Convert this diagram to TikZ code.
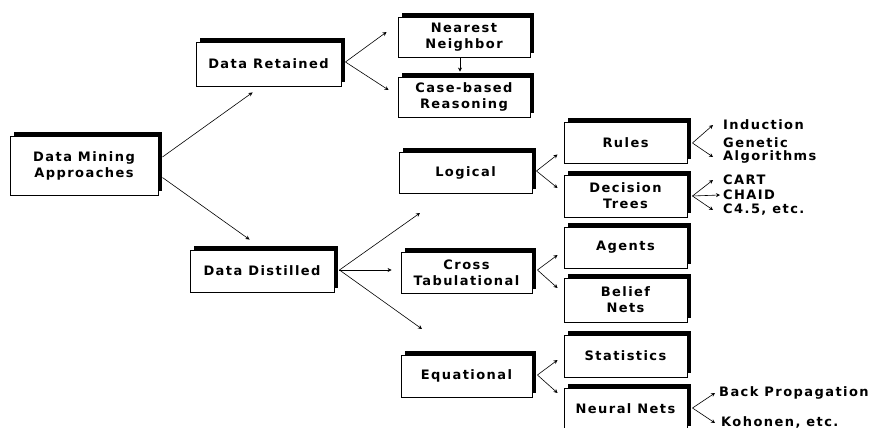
\documentclass[tikz,border=0pt]{standalone}
\usepackage{fontspec}
\setmainfont{DejaVu Sans}[LetterSpace=11]
\usetikzlibrary{arrows.meta,shadows,calc}
\begin{document}
\begin{tikzpicture}[x=1pt,y=-1pt,
  box/.style={draw, line width=0.9pt, fill=white, inner sep=0pt, align=center,
    font=\bfseries\fontsize{13}{16}\selectfont,
    general shadow={fill=black, shadow xshift=4pt, shadow yshift=4pt}},
  lbl/.style={anchor=west, inner sep=0pt, align=left, font=\bfseries\fontsize{13}{13}\selectfont},
  arr/.style={line width=0.6pt, -{Stealth[length=4pt,width=4pt]}}]
\useasboundingbox (0,0) rectangle (871,428);
\clip (0,0) rectangle (871,428);
% boxes
\node[box, minimum width=148, minimum height=59] (dma) at (84,165.5) {Data Mining\\Approaches};
\node[box, minimum width=145, minimum height=44] (dret) at (268.5,64) {Data Retained};
\node[box, minimum width=144, minimum height=42] (ddist) at (262,271) {Data Distilled};
\node[box, minimum width=132, minimum height=40] (nn) at (464,37) {Nearest\\Neighbor};
\node[box, minimum width=132, minimum height=40] (cbr) at (464,97) {Case-based\\Reasoning};
\node[box, minimum width=133, minimum height=41] (logical) at (465.5,172.5) {Logical};
\node[box, minimum width=131, minimum height=41] (ctab) at (466.5,272.5) {Cross\\Tabulational};
\node[box, minimum width=131, minimum height=42] (equa) at (466.5,376) {Equational};
\node[box, minimum width=123, minimum height=41] (rules) at (625.5,142.5) {Rules};
\node[box, minimum width=123, minimum height=42] (dtrees) at (625.5,196) {Decision\\Trees};
\node[box, minimum width=123, minimum height=41] (agents) at (625.5,247.5) {Agents};
\node[box, minimum width=123, minimum height=44] (belief) at (625.5,300) {Belief\\Nets};
\node[box, minimum width=123, minimum height=42] (stats) at (625.5,356) {Statistics};
\node[box, minimum width=123, minimum height=42] (neural) at (625.5,409) {Neural Nets};
% labels
\node[lbl] (ind) at (723,125) {Induction};
\node[lbl] (gen) at (723,150.5) {Genetic\\Algorithms};
\node[lbl] (cart) at (723,180) {CART};
\node[lbl] (chaid) at (723,195) {CHAID};
\node[lbl] (c45) at (723,209.5) {C4.5, etc.};
\node[lbl] (bp) at (719,393) {Back Propagation};
\node[lbl] (koh) at (721,422) {Kohonen, etc.};
% free arrow ends
\coordinate (up) at (420,213);
\coordinate (down) at (422,329);
% connectors
\draw[arr] ($(dma.east)+(4,-8.5)$) -- ($(dret.south west)+(57,6)$);
\draw[arr] ($(dma.east)+(4,12)$) -- ($(ddist.north west)+(60,-10)$);
\draw[arr] ($(dret.east)+(4,-2)$) -- ($(nn.west)+(-11,-5)$);
\draw[arr] ($(dret.east)+(4,-2)$) -- ($(cbr.west)+(-9,-7)$);
\draw[arr] ($(nn.south)+(-4,0)$) -- ($(cbr.north)+(-4,-5)$);
\draw[arr] ($(ddist.east)+(5,-1)$) -- (up);
\draw[arr] ($(ddist.east)+(5,-1)$) -- ($(ctab.west)+(-9,-2.5)$);
\draw[arr] ($(ddist.east)+(5,-1)$) -- (down);
\draw[arr] ($(logical.east)+(4,-1.5)$) -- ($(rules.west)+(-6,12)$);
\draw[arr] ($(logical.east)+(4,-1.5)$) -- ($(dtrees.west)+(-6,-8)$);
\draw[arr] ($(ctab.east)+(5,-2.5)$) -- ($(agents.west)+(-6,7.5)$);
\draw[arr] ($(ctab.east)+(5,-2.5)$) -- ($(belief.west)+(-6,-12)$);
\draw[arr] ($(equa.east)+(5,-1)$) -- ($(stats.west)+(-6,4)$);
\draw[arr] ($(equa.east)+(5,-1)$) -- ($(neural.west)+(-6,-16)$);
\draw[arr] ($(rules.east)+(5,0.5)$) -- ($(ind.west)+(-10,0)$);
\draw[arr] ($(rules.east)+(5,0.5)$) -- ($(gen.west)+(-10,6.5)$);
\draw[arr] ($(dtrees.east)+(5,0)$) -- ($(cart.west)+(-10,0)$);
\draw[arr] ($(dtrees.east)+(5,0)$) -- ($(chaid.west)+(-3,0)$);
\draw[arr] ($(dtrees.east)+(5,0)$) -- ($(c45.west)+(-10,0.5)$);
\draw[arr] ($(neural.east)+(5,-1)$) -- ($(bp.west)+(-4,0)$);
\draw[arr] ($(neural.east)+(5,-1)$) -- ($(koh.west)+(-6,1)$);
\end{tikzpicture}
\end{document}
